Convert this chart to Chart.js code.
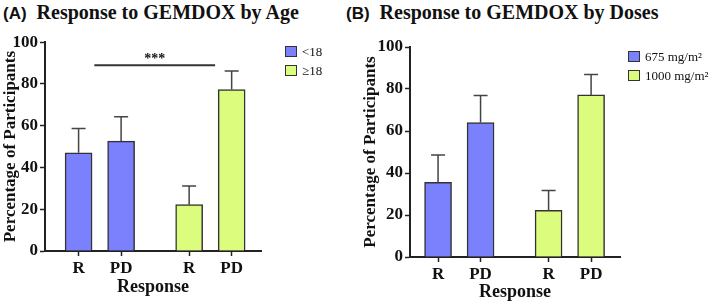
<!DOCTYPE html>
<html lang="en">
<head>
  <meta charset="UTF-8">
  <title>Response to GEMDOX</title>
  <script src="https://cdn.jsdelivr.net/npm/chart.js"></script>
  <style>
    body { margin: 0; background: #fff; width: 709px; height: 303px; overflow: hidden; position: relative; }
    .title { position: absolute; top: 1px; font-family: "Liberation Serif", "Times New Roman", serif; font-weight: bold; font-size: 20px; color: #111; white-space: nowrap; }
    .title b { font-family: "Liberation Sans", Arial, sans-serif; font-size: 17px; margin-right: 5px; }
    .panel { position: absolute; top: 30px; height: 273px; }
    .legend { position: absolute; font-family: "Liberation Serif", serif; font-size: 13px; color: #111; }
    .legend div { height: 19px; line-height: 12px; white-space: nowrap; }
    .legend span { display: inline-block; width: 10px; height: 9px; border: 1px solid #333; margin-right: 5px; vertical-align: -1px; }
  </style>
</head>
<body>
  <div class="title" style="left:3px;"><b>(A)</b> Response to GEMDOX by Age</div>
  <div class="title" style="left:346px;"><b>(B)</b> Response to GEMDOX by Doses</div>
  <div class="panel" style="left:0; width:360px;"><canvas id="chartA" width="360" height="273"></canvas></div>
  <div class="panel" style="left:360px; width:349px;"><canvas id="chartB" width="349" height="273"></canvas></div>
  <div class="legend" id="legendA" style="left:285px; top:46px;"></div>
  <div class="legend" id="legendB" style="left:628px; top:51px;"></div>

  <script>
    // x positions of the bars and their labels
    const barPos = [1, 2, 3.6, 4.6];
    const tickLabels = ['R', 'PD', 'R', 'PD'];

    // (A) by age
    const ageGroups = ['<18', '≥18'];
    const ageUnder = [47.0, 52.6];
    const ageUnderErr = [58.7, 64.3];
    const ageOver = [22.2, 77.3];
    const ageOverErr = [31.1, 86.2];
    const sigSpan = [1.37, 4.21];
    const sigLevel = 89;
    const sigText = '***';

    // (B) by dose
    const doseGroups = ['675 mg/m²', '1000 mg/m²'];
    const dose675 = [35.5, 64.0];
    const dose675Err = [48.6, 76.9];
    const dose1000 = [22.2, 77.2];
    const dose1000Err = [31.7, 86.9];

    const blue = '#7b80fd';
    const green = '#dcfc7e';
    const edge = '#333333';
    const serif = '"Liberation Serif", "Times New Roman", serif';

    function pts(xs, ys, errs) {
      return ys.map((y, i) => ({ x: xs[i], y: y, err: errs[i] }));
    }

    const errorBars = {
      id: 'errorBars',
      afterDatasetsDraw(chart) {
        const { ctx, scales: { x, y } } = chart;
        ctx.save();
        ctx.strokeStyle = '#444';
        ctx.lineWidth = 1.5;
        chart.data.datasets.forEach(ds => {
          ds.data.forEach(p => {
            const px = x.getPixelForValue(p.x);
            const top = y.getPixelForValue(p.err);
            ctx.beginPath();
            ctx.moveTo(px, y.getPixelForValue(p.y));
            ctx.lineTo(px, top);
            ctx.moveTo(px - 7, top);
            ctx.lineTo(px + 7, top);
            ctx.stroke();
          });
        });
        const sig = chart.options.plugins.errorBars.sig;
        if (sig) {
          const yy = y.getPixelForValue(sig.level);
          const x0 = x.getPixelForValue(sig.span[0]);
          const x1 = x.getPixelForValue(sig.span[1]);
          ctx.strokeStyle = '#333';
          ctx.lineWidth = 2;
          ctx.beginPath();
          ctx.moveTo(x0, yy);
          ctx.lineTo(x1, yy);
          ctx.stroke();
          ctx.fillStyle = '#111';
          ctx.font = 'bold 14px ' + serif;
          ctx.textAlign = 'center';
          ctx.fillText(sig.text, (x0 + x1) / 2, yy - 2);
        }
        ctx.restore();
      }
    };

    function makeChart(id, groups, d1, d2, box, sig) {
      return new Chart(document.getElementById(id), {
        type: 'bar',
        data: {
          datasets: [
            { label: groups[0], data: d1, backgroundColor: blue, borderColor: edge, borderWidth: 1.5 },
            { label: groups[1], data: d2, backgroundColor: green, borderColor: edge, borderWidth: 1.5 }
          ]
        },
        options: {
          responsive: false,
          animation: false,
          grouped: false,
          barThickness: 27,
          layout: { padding: { top: box.top, right: box.right, bottom: box.bottom, left: 0 } },
          plugins: { legend: { display: false }, tooltip: { enabled: false }, errorBars: { sig: sig } },
          scales: {
            x: {
              type: 'linear',
              offset: false,
              min: box.xMin,
              max: box.xMax,
              grid: { display: true, drawOnChartArea: false, drawTicks: true, offset: false, tickLength: 5, tickColor: '#222', tickWidth: 1.5 },
              border: { display: true, color: '#222', width: 2 },
              afterBuildTicks: axis => { axis.ticks = barPos.map(v => ({ value: v })); },
              ticks: {
                autoSkip: false,
                maxRotation: 0,
                color: '#111',
                padding: 2,
                font: { family: serif, size: 17, weight: 'bold' },
                callback: (v, i) => tickLabels[i]
              },
              title: { display: true, text: 'Response', color: '#111', padding: { top: 0, bottom: 0 }, font: { family: serif, size: 18, weight: 'bold' } },
              afterFit: axis => { axis.height = box.xh; }
            },
            y: {
              min: 0,
              max: 100,
              grid: { display: true, drawOnChartArea: false, drawTicks: true, tickLength: 5, tickColor: '#222', tickWidth: 1.5 },
              border: { display: true, color: '#222', width: 2 },
              ticks: { stepSize: 20, color: '#111', padding: 2, font: { family: serif, size: 17, weight: 'bold' } },
              title: { display: true, text: 'Percentage of Participants', color: '#111', padding: 0, font: { family: serif, size: 17, weight: 'bold' } },
              afterFit: axis => { axis.width = box.yw; }
            }
          }
        },
        plugins: [errorBars]
      });
    }

    makeChart('chartA', ageGroups,
      pts(barPos.slice(0, 2), ageUnder, ageUnderErr),
      pts(barPos.slice(2), ageOver, ageOverErr),
      { top: 12, right: 99, bottom: 5, xh: 47, yw: 45, xMin: 0.21, xMax: 5.29 },
      { span: sigSpan, level: sigLevel, text: sigText });

    makeChart('chartB', doseGroups,
      pts(barPos.slice(0, 2), dose675, dose675Err),
      pts(barPos.slice(2), dose1000, dose1000Err),
      { top: 17, right: 89, bottom: 0, xh: 46, yw: 50, xMin: 0.34, xMax: 5.28 },
      null);

    function legend(id, groups) {
      const colors = [blue, green];
      document.getElementById(id).innerHTML = groups.map((g, i) =>
        '<div><span style="background:' + colors[i] + '"></span>' + g + '</div>').join('');
    }
    legend('legendA', ageGroups);
    legend('legendB', doseGroups);
  </script>
</body>
</html>
